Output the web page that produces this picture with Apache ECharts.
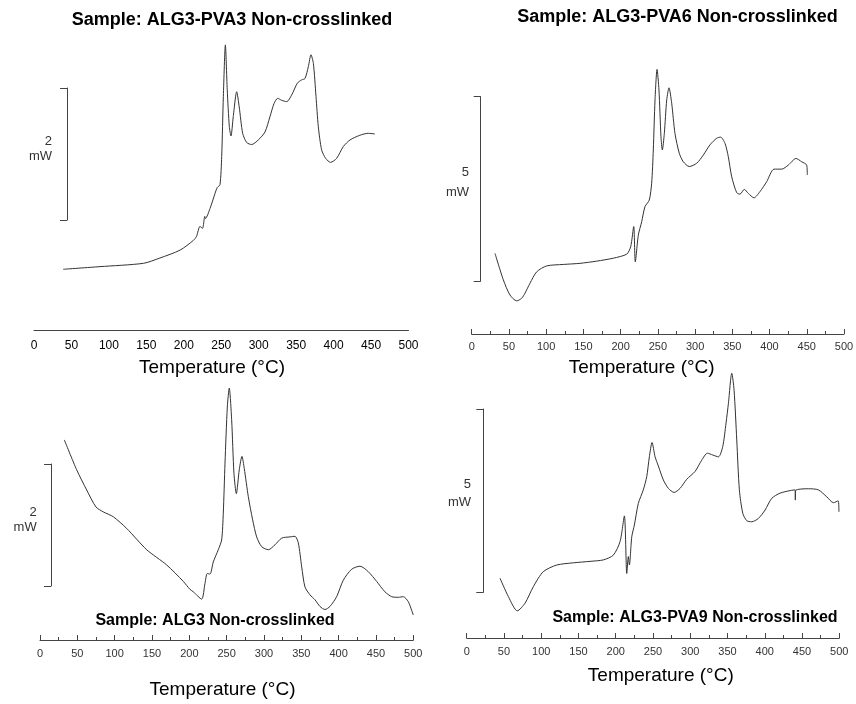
<!DOCTYPE html>
<html><head><meta charset="utf-8">
<script src="https://cdn.jsdelivr.net/npm/echarts@6/dist/echarts.min.js"></script>
<style>html,body{margin:0;padding:0;background:#fff}#c{width:856px;height:704px}</style>
</head><body><div id="c"></div>
<script>
// ---------- DATA (temperature in °C, heat flow in mW, relative offset) ----------
const xTicks = [0, 50, 100, 150, 200, 250, 300, 350, 400, 450, 500];

const pva3Temp = [39, 88, 146, 168, 195, 213, 217, 221.6, 225, 228, 229, 235, 241.7, 244.7, 248.3, 250.6, 252.8, 255.5, 258, 260.8, 263, 266, 270.6, 274, 278.6, 284, 290.6, 299.5, 308.4, 315, 320.4, 325.3, 330.7, 337.4, 344, 351.6, 357.4, 361.8, 366.3, 369.8, 373, 376.5, 379.6, 384, 389.4, 396, 404, 413, 422, 435, 446, 455];
const pva3Heat = [0.92, 0.96, 1.01, 1.09, 1.21, 1.36, 1.42, 1.57, 1.54, 1.72, 1.69, 1.84, 2.07, 2.16, 2.20, 2.63, 3.54, 4.32, 3.64, 3.08, 2.94, 3.23, 3.61, 3.38, 2.98, 2.84, 2.81, 2.88, 3.00, 3.23, 3.43, 3.51, 3.48, 3.46, 3.56, 3.74, 3.79, 3.81, 3.99, 4.17, 4.04, 3.54, 3.08, 2.73, 2.60, 2.54, 2.60, 2.78, 2.88, 2.95, 2.98, 2.97];

const pva6Temp = [31.3, 42.5, 51.4, 60.4, 67.1, 71.6, 78.3, 87.3, 100.7, 123, 145.4, 167.9, 190.2, 208.2, 213.5, 217.6, 219.7, 223.8, 228.3, 232.7, 238.5, 241.7, 243.9, 246.2, 248.9, 251.5, 254.2, 256, 258.7, 261.9, 265, 268.6, 273, 278.8, 284.2, 292.2, 302.2, 311, 320, 329, 334.4, 340.2, 344.6, 349.2, 355.9, 360.3, 366.1, 371.5, 379.1, 387.2, 396.2, 406, 416.3, 425.2, 435.5, 443.2, 449.9, 450.7];
const pva6Heat = [2.19, 1.47, 1.06, 0.90, 0.97, 1.11, 1.38, 1.69, 1.85, 1.89, 1.92, 1.98, 2.06, 2.17, 2.37, 2.92, 1.96, 2.69, 3.05, 3.46, 3.64, 4.10, 5.00, 6.36, 7.19, 6.63, 5.36, 5.00, 5.45, 6.36, 6.69, 6.27, 5.45, 4.91, 4.68, 4.55, 4.64, 4.86, 5.14, 5.32, 5.35, 5.18, 4.82, 4.27, 3.84, 3.80, 3.93, 3.82, 3.70, 3.87, 4.14, 4.48, 4.48, 4.59, 4.77, 4.68, 4.59, 4.32];

const alg3Temp = [32.6, 49.1, 62.5, 75, 84.8, 98.2, 116, 142.9, 169.7, 192, 200.9, 205.3, 216.5, 221, 224, 227.7, 232.1, 238.8, 243.3, 245.5, 247.8, 250.9, 253.5, 256.7, 259.8, 263, 266.9, 270.5, 273.6, 279, 284.8, 290.2, 296.9, 305.8, 314.7, 323.7, 334.8, 341.5, 346, 350.5, 354.9, 361.6, 368.3, 375, 381.7, 388.4, 397.3, 406.2, 417.4, 428.6, 439.7, 450.9, 462, 471, 479.9, 486.6, 493.2, 497.7, 500];
const alg3Heat = [3.28, 2.79, 2.46, 2.18, 2.10, 2.02, 1.83, 1.48, 1.23, 0.96, 0.83, 0.79, 0.67, 0.93, 1.09, 1.08, 1.28, 1.48, 1.64, 2.08, 2.90, 3.82, 4.13, 3.61, 2.73, 2.40, 2.79, 3.01, 2.81, 2.35, 1.97, 1.69, 1.53, 1.48, 1.56, 1.67, 1.69, 1.70, 1.59, 1.20, 0.87, 0.74, 0.66, 0.55, 0.50, 0.55, 0.71, 0.98, 1.16, 1.21, 1.12, 0.96, 0.79, 0.71, 0.70, 0.71, 0.63, 0.49, 0.41];

const pva9Temp = [44.7, 55.9, 67.9, 78.3, 89.4, 102.8, 120.8, 143.1, 165.5, 183.4, 196.8, 205.8, 211.6, 214.8, 216.9, 218.3, 221.5, 225, 230.3, 237, 241.6, 245.1, 248.7, 252.8, 257.2, 263.9, 270.6, 278.3, 286.3, 295.3, 306.4, 315.4, 323, 330.2, 337.8, 343.6, 348, 351.2, 355.7, 358.8, 362.4, 365.9, 370.5, 375.8, 382.6, 391.4, 400.4, 409.4, 420.5, 434, 440.7, 441, 441.3, 458.5, 471.9, 483.2, 492.1, 498.5, 499.5];
const pva9Heat = [1.63, 1.13, 0.74, 0.95, 1.40, 1.81, 1.99, 2.05, 2.09, 2.13, 2.26, 2.63, 3.33, 1.76, 2.22, 1.99, 2.76, 3.08, 3.67, 4.04, 4.40, 4.94, 5.33, 4.94, 4.69, 4.31, 4.08, 3.97, 4.08, 4.33, 4.54, 4.85, 5.04, 4.99, 4.94, 5.22, 5.86, 6.40, 7.22, 6.76, 5.40, 4.04, 3.40, 3.20, 3.17, 3.26, 3.49, 3.81, 3.95, 4.02, 4.04, 3.76, 4.02, 4.07, 4.04, 3.85, 3.69, 3.74, 3.44];

const titles = ['Sample: ALG3-PVA3 Non-crosslinked', 'Sample: ALG3-PVA6 Non-crosslinked', 'Sample: ALG3 Non-crosslinked', 'Sample: ALG3-PVA9 Non-crosslinked'];
const scaleSpans = [2, 5, 2, 5];
const xName = 'Temperature (°C)';

// ---------- LAYOUT ----------
const FONT = "'Liberation Sans', Arial, Helvetica, sans-serif";
const panels = [
  { temp: pva3Temp, heat: pva3Heat, grid: { left: 34, top: 30, width: 374.5, height: 300 }, pxPerMw: 66,
    ticks: false, labelSize: 12, labelColor: '#000', labelMargin: 10,
    bar: { left: 67, top: 88, height: 132 },
    title: { x: 232, y: 20, size: 18 }, xname: { x: 212, y: 368 },
    barLabel: { x: 52, y1: 141, y2: 156 } },
  { temp: pva6Temp, heat: pva6Heat, grid: { left: 471.7, top: 40, width: 372.3, height: 294 }, pxPerMw: 36.8,
    ticks: true, labelSize: 11, labelColor: '#333', labelMargin: 7,
    bar: { left: 480.7, top: 96.7, height: 184.3 },
    title: { x: 677.5, y: 17.5, size: 18 }, xname: { x: 641.7, y: 368 },
    barLabel: { x: 469, y1: 172, y2: 192 } },
  { temp: alg3Temp, heat: alg3Heat, grid: { left: 40, top: 380, width: 373.3, height: 260 }, pxPerMw: 61,
    ticks: true, labelSize: 11, labelColor: '#333', labelMargin: 8,
    bar: { left: 51, top: 464, height: 122 },
    title: { x: 215, y: 620.5, size: 16 }, xname: { x: 222.5, y: 690 },
    barLabel: { x: 36.7, y1: 512, y2: 527 } },
  { temp: pva9Temp, heat: pva9Heat, grid: { left: 466.7, top: 370, width: 372.6, height: 268 }, pxPerMw: 36.67,
    ticks: true, labelSize: 11, labelColor: '#333', labelMargin: 8,
    bar: { left: 483.3, top: 409, height: 183.3 },
    title: { x: 695, y: 618, size: 16 }, xname: { x: 660.8, y: 676 },
    barLabel: { x: 471, y1: 484, y2: 502.7 } }
];

const grid = [], xAxis = [], yAxis = [], series = [], graphic = [];
panels.forEach((p, i) => {
  // main plot
  const gi = grid.length;
  grid.push(Object.assign({ outerBoundsMode: 'none', containLabel: false }, p.grid));
  xAxis.push({
    type: 'value', gridIndex: gi, min: xTicks[0], max: xTicks[xTicks.length - 1], interval: xTicks[1] - xTicks[0],
    axisLine: { show: true, lineStyle: { color: '#444', width: 1 } },
    axisTick: { show: p.ticks, inside: true, length: 5, lineStyle: { color: '#444' } },
    minorTick: { show: p.ticks, splitNumber: 2, length: 3, lineStyle: { color: '#444' } },
    splitLine: { show: false }, minorSplitLine: { show: false },
    axisLabel: { fontSize: p.labelSize, color: p.labelColor, margin: p.labelMargin, fontFamily: FONT }
  });
  yAxis.push({ type: 'value', gridIndex: gi, min: 0, max: p.grid.height / p.pxPerMw, show: false });
  series.push({
    type: 'line', xAxisIndex: gi, yAxisIndex: gi, showSymbol: false, smooth: 0.25,
    lineStyle: { color: '#333', width: 1 },
    data: p.temp.map((t, k) => [t, p.heat[k]]), silent: true, animation: false
  });
  // scale bar (mW) drawn as its own axis
  const bi = grid.length;
  grid.push({ outerBoundsMode: 'none', containLabel: false, left: p.bar.left, top: p.bar.top, width: 10, height: p.bar.height });
  xAxis.push({ type: 'value', gridIndex: bi, min: 0, max: 1, show: false });
  yAxis.push({
    type: 'value', gridIndex: bi, min: 0, max: scaleSpans[i], interval: scaleSpans[i],
    axisLine: { show: true, lineStyle: { color: '#444', width: 1 } },
    axisTick: { show: true, inside: false, length: 7, lineStyle: { color: '#444' } },
    axisLabel: { show: false }, splitLine: { show: false }
  });
  // texts
  graphic.push({ type: 'text', x: p.title.x, y: p.title.y, style: { text: titles[i], fill: '#000', font: 'bold ' + p.title.size + 'px ' + FONT, align: 'center', verticalAlign: 'middle', textAlign: 'center', textVerticalAlign: 'middle' } });
  graphic.push({ type: 'text', x: p.xname.x, y: p.xname.y, style: { text: xName, fill: '#000', font: '19px ' + FONT, align: 'center', verticalAlign: 'middle', textAlign: 'center', textVerticalAlign: 'middle' } });
  graphic.push({ type: 'text', x: p.barLabel.x, y: p.barLabel.y1, style: { text: String(scaleSpans[i]), fill: '#333', font: '13px ' + FONT, align: 'right', verticalAlign: 'middle', textAlign: 'right', textVerticalAlign: 'middle' } });
  graphic.push({ type: 'text', x: p.barLabel.x, y: p.barLabel.y2, style: { text: 'mW', fill: '#333', font: '13px ' + FONT, align: 'right', verticalAlign: 'middle', textAlign: 'right', textVerticalAlign: 'middle' } });
});

const chart = echarts.init(document.getElementById('c'), null, { renderer: 'canvas' });
chart.setOption({ backgroundColor: '#fff', animation: false, grid, xAxis, yAxis, series, graphic });
</script></body></html>
